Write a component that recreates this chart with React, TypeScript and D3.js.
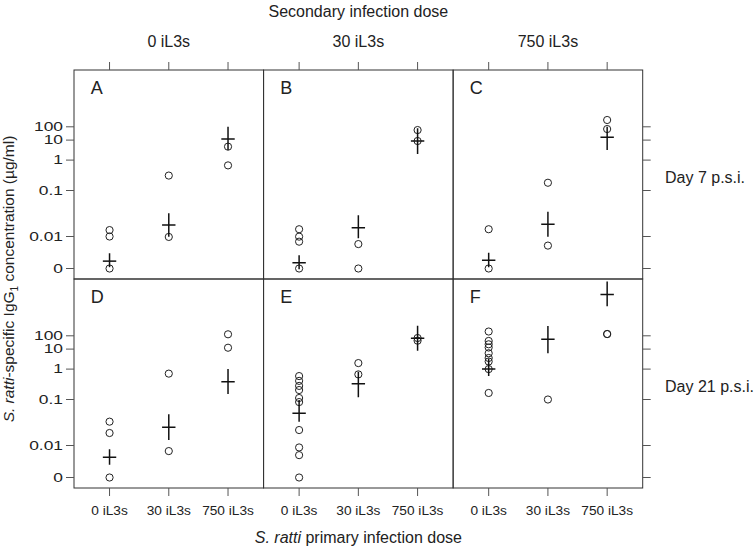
import React from "react";
import * as d3 from "d3";

// ---- data ----
const GROUPS = ["0 iL3s", "30 iL3s", "750 iL3s"]; // primary dose (x categories)
const COL_LABELS = ["0 iL3s", "30 iL3s", "750 iL3s"]; // secondary dose (strips)
const ROW_LABELS = ["Day 7 p.s.i.", "Day 21 p.s.i."];
const PANEL_LETTERS = ["A", "B", "C", "D", "E", "F"];
const Y_TICKS = [0, 0.01, 0.1, 1, 10, 100];
const Y_TICK_LABELS = ["0", "0.01", "0.1", "1", "10", "100"];

// individual observations [panel][group]
const CIRCLES: number[][][] = [
  [[0.0138, 0.01, 0], [0.31, 0.0097], [4.7, 0.67]],
  [[0.0144, 0.0099, 0.0069, 0], [0.0058, 0], [57, 9.0]],
  [[0.0144, 0], [0.18, 0.0052], [325, 68]],
  [[0.033, 0.0187, 0], [0.71, 0.0067], [130, 12.7]],
  [[0.59, 0.41, 0.28, 0.205, 0.112, 0.088, 0.0217, 0.0087, 0.005, 0], [2.0, 0.67], [68, 43]],
  [[210, 41, 23, 13.2, 6.2, 3.6, 2.4, 1.0, 0.164], [0.1], [136, 136]],
];
// group summaries [panel][group]
const MEANS: number[][] = [
  [0.0017, 0.0178, 12.1],
  [0.0015, 0.0155, 9.0],
  [0.0018, 0.0184, 16.3],
  [0.0043, 0.025, 0.385],
  [0.05, 0.33, 65],
  [1.0, 55, 130000],
];
const LOWER: number[][] = [
  [0.0011, 0.0099, 3.2],
  [0.00094, 0.0088, 2.0],
  [0.0011, 0.0099, 3.2],
  [0.0025, 0.0132, 0.152],
  [0.033, 0.118, 8.3],
  [0.59, 6.2, 17000],
];
const UPPER: number[][] = [
  [0.003, 0.032, 100],
  [0.0026, 0.029, 77],
  [0.0031, 0.0346, 100],
  [0.0076, 0.048, 1.01],
  [0.098, 0.82, 575],
  [3.4, 545, 1200000],
];

// ---- scale configuration (transformed axis: log positions -> fraction of panel height) ----
const Y_LOG_BREAKS = [-3, -2, -1, 0, 1, 2];
const Y_FRACS = [0.0502, 0.2033, 0.4234, 0.5689, 0.6646, 0.7282];
const toLog = (v: number) => (v <= 0 ? -3 : Math.log10(v));

const FONT = "'Liberation Sans', Arial, Helvetica, sans-serif";

export default function App() {
  const W = 756;
  const H = 547;
  const left = 74;
  const top = 70;
  const gridW = 568.7;
  const pw = gridW / 3;
  const ph = 209;
  const tickLen = 8;
  const axisColor = "#555";

  const panels: React.ReactNode[] = [];
  const axes: React.ReactNode[] = [];

  for (let r = 0; r < 2; r++) {
    const y0 = top + r * ph;
    const y = d3
      .scaleLinear()
      .domain(Y_LOG_BREAKS)
      .range(Y_FRACS.map((f) => y0 + ph - f * ph));

    // left ticks with labels
    Y_TICKS.forEach((t, i) => {
      const yy = y(toLog(t));
      axes.push(
        <line key={`lt${r}-${i}`} x1={left - tickLen} x2={left} y1={yy} y2={yy} stroke={axisColor} strokeWidth={1} />
      );
      axes.push(
        <text
          key={`ll${r}-${i}`}
          transform={`translate(${left - 11},${yy + 4.3}) scale(1.45,1)`}
          textAnchor="end"
          fontSize={12}
          fontFamily={FONT}
          fill="#222"
        >
          {Y_TICK_LABELS[i]}
        </text>
      );
      axes.push(
        <line key={`rt${r}-${i}`} x1={left + gridW} x2={left + gridW + tickLen} y1={yy} y2={yy} stroke={axisColor} strokeWidth={1} />
      );
    });

    axes.push(
      <text key={`rowlab${r}`} x={665} y={y0 + ph / 2 + 8.5} fontSize={16} fontFamily={FONT} fill="#222">
        {ROW_LABELS[r]}
      </text>
    );

    for (let c = 0; c < 3; c++) {
      const p = r * 3 + c;
      const x0 = left + c * pw;
      const x = d3.scalePoint<string>().domain(GROUPS).range([x0, x0 + pw]).padding(0.6);
      const clipId = `clip${p}`;

      const marks: React.ReactNode[] = [];
      GROUPS.forEach((g, gi) => {
        const cx = x(g)!;
        CIRCLES[p][gi].forEach((v, k) => {
          marks.push(
            <circle key={`c${gi}-${k}`} cx={cx} cy={y(toLog(v))} r={3.6} fill="none" stroke="#222" strokeWidth={1} />
          );
        });
        const ym = y(toLog(MEANS[p][gi]));
        marks.push(
          <line key={`v${gi}`} x1={cx} x2={cx} y1={y(toLog(LOWER[p][gi]))} y2={y(toLog(UPPER[p][gi]))} stroke="#111" strokeWidth={1.5} />
        );
        marks.push(
          <line key={`h${gi}`} x1={cx - 6.7} x2={cx + 6.7} y1={ym} y2={ym} stroke="#111" strokeWidth={1.5} />
        );
        if (r === 0) {
          axes.push(
            <line key={`tt${p}-${gi}`} x1={cx} x2={cx} y1={top - tickLen} y2={top} stroke={axisColor} strokeWidth={1} />
          );
        } else {
          axes.push(
            <line key={`bt${p}-${gi}`} x1={cx} x2={cx} y1={top + 2 * ph} y2={top + 2 * ph + tickLen} stroke={axisColor} strokeWidth={1} />
          );
          axes.push(
            <text key={`bl${p}-${gi}`} x={cx} y={515} textAnchor="middle" fontSize={13.7} fontFamily={FONT} fill="#222">
              {g}
            </text>
          );
        }
      });

      panels.push(
        <g key={`p${p}`}>
          <defs>
            <clipPath id={clipId}>
              <rect x={x0} y={y0} width={pw} height={ph} />
            </clipPath>
          </defs>
          <g clipPath={`url(#${clipId})`}>{marks}</g>
          <rect x={x0} y={y0} width={pw} height={ph} fill="none" stroke="#333" strokeWidth={1} />
          <text x={x0 + 16.7} y={y0 + 24} fontSize={18} fontFamily={FONT} fill="#222">
            {PANEL_LETTERS[p]}
          </text>
        </g>
      );

      if (r === 0) {
        axes.push(
          <text key={`strip${c}`} x={x0 + pw / 2} y={46.7} textAnchor="middle" fontSize={16} fontFamily={FONT} fill="#222">
            {COL_LABELS[c]}
          </text>
        );
      }
    }
  }

  return (
    <svg
      width={W}
      height={H}
      viewBox={`0 0 ${W} ${H}`}
      style={{ position: "absolute", left: 0, top: 0, background: "#fff" }}
    >
      <rect x={0} y={0} width={W} height={H} fill="#fff" />
      {panels}
      {axes}
      <text x={left + gridW / 2} y={16.7} textAnchor="middle" fontSize={16} fontFamily={FONT} fill="#222">
        Secondary infection dose
      </text>
      <text x={left + gridW / 2} y={543} textAnchor="middle" fontSize={16} fontFamily={FONT} fill="#222">
        <tspan fontStyle="italic">S. ratti</tspan> primary infection dose
      </text>
      <text
        transform={`translate(14,${top + ph}) rotate(-90)`}
        textAnchor="middle"
        fontSize={15.5}
        fontFamily={FONT}
        fill="#222"
      >
        <tspan fontStyle="italic">S. ratti</tspan>
        <tspan>-specific IgG</tspan>
        <tspan dy={3.5} fontSize={10}>1</tspan>
        <tspan dy={-3.5}> concentration (µg/ml)</tspan>
      </text>
    </svg>
  );
}
